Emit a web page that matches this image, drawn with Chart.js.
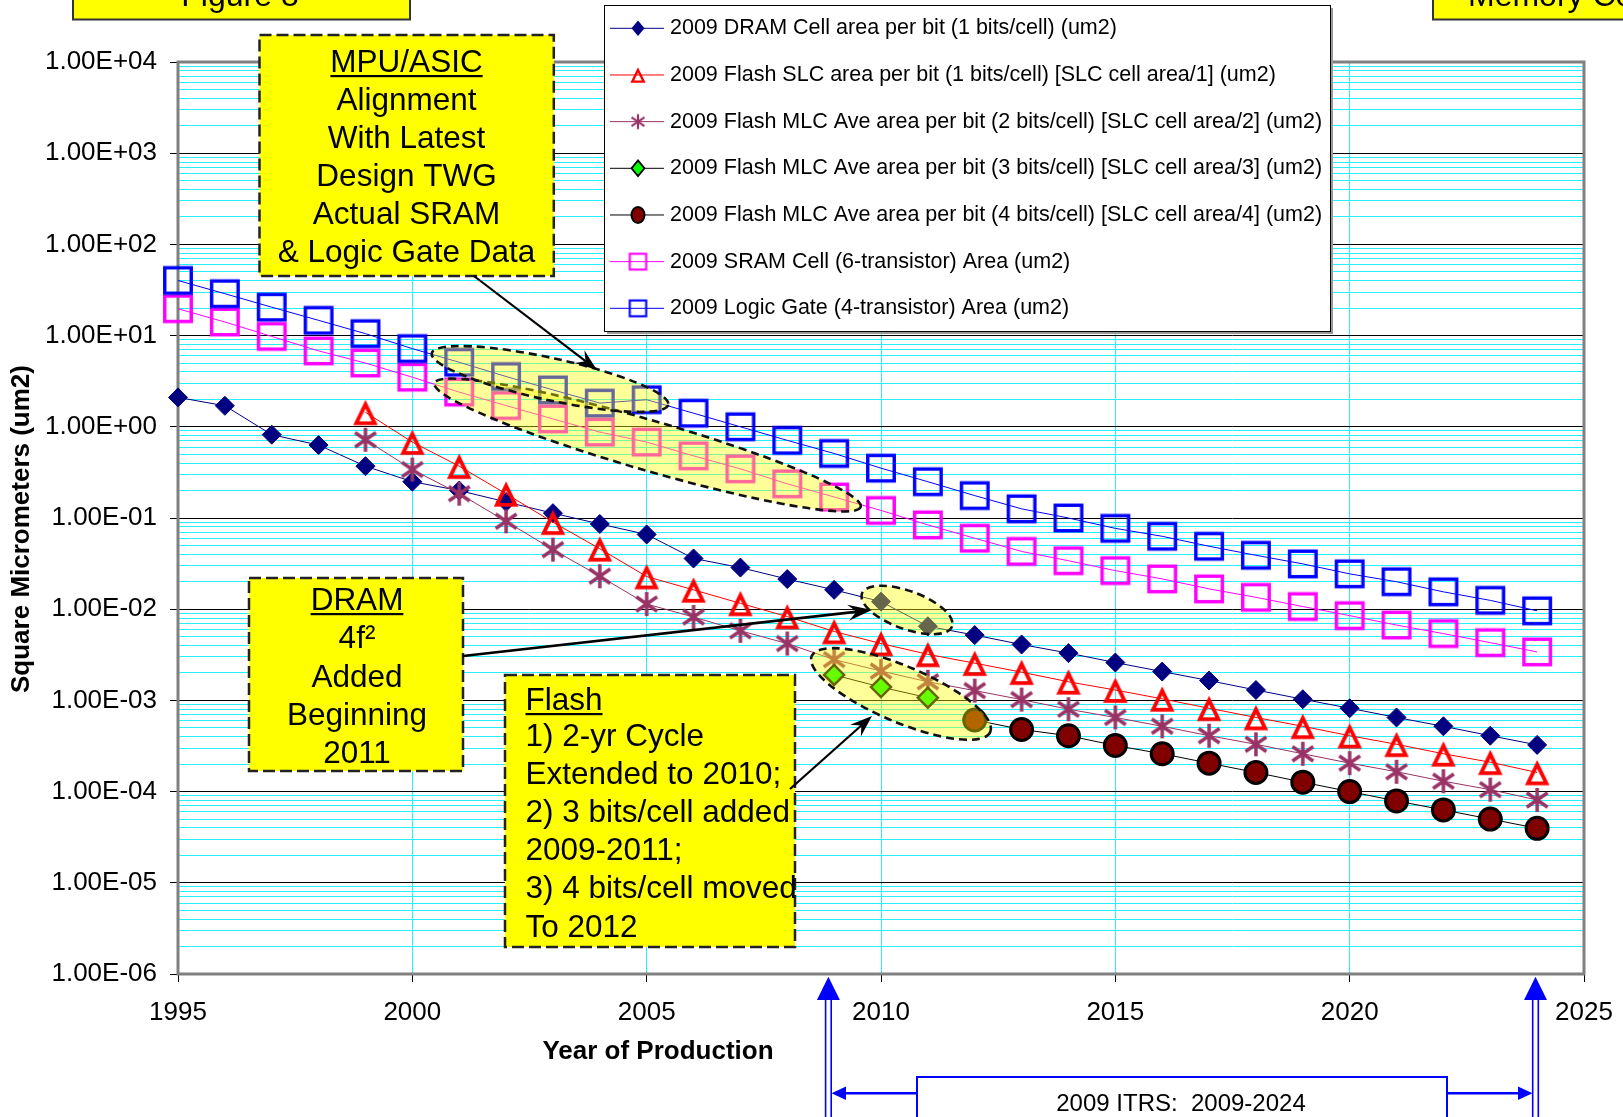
<!DOCTYPE html>
<html><head><meta charset="utf-8">
<script src="https://cdn.jsdelivr.net/npm/chart.js@4/dist/chart.umd.min.js"></script>
<style>html,body{margin:0;padding:0;background:#fff;overflow:hidden}canvas{display:block}</style>
</head><body>
<canvas id="c" width="1623" height="1117" style="width:1623px;height:1117px"></canvas>
<script>
const years = [1995,1996,1997,1998,1999,2000,2001,2002,2003,2004,2005,2006,2007,2008,2009,2010,2011,2012,2013,2014,2015,2016,2017,2018,2019,2020,2021,2022,2023,2024];
const dramArea = [2.1,1.7,0.82,0.63,0.37,0.25,0.20,0.15,0.113,0.086,0.066,0.036,0.0286,0.0214,0.0163,0.0121,0.0065,0.0052,0.0041,0.0033,0.0026,0.00207,0.00165,0.0013,0.00103,0.00082,0.00065,0.00052,0.00041,0.000325];
const flashSLC = [null,null,null,null,1.44,0.68,0.37,0.184,0.090,0.046,0.0228,0.0163,0.0116,0.0083,0.0057,0.0042,0.0032,0.00256,0.00204,0.0016,0.0013,0.00104,0.00082,0.00065,0.00052,0.00041,0.00033,0.00026,0.00021,0.000162];
const flashMLC2 = [null,null,null,null,0.72,0.34,0.185,0.092,0.045,0.023,0.0114,0.0082,0.0058,0.0042,0.0028,0.0021,0.0016,0.00128,0.00102,0.0008,0.00065,0.00052,0.00041,0.00033,0.00026,0.000205,0.000165,0.00013,0.000105,0.000081];
const flashMLC3 = [null,null,null,null,null,null,null,null,null,null,null,null,null,null,0.0019,0.0014,0.00107,null,null,null,null,null,null,null,null,null,null,null,null,null];
const flashMLC4 = [null,null,null,null,null,null,null,null,null,null,null,null,null,null,null,null,null,0.00061,0.00048,0.00041,0.00032,0.00026,0.000205,0.000162,0.000127,0.0001,0.000079,0.000063,0.00005,0.0000396];
const sramArea = [19.7,14.1,9.8,6.8,5.0,3.5,2.4,1.71,1.22,0.875,0.68,0.48,0.346,0.237,0.17,0.121,0.084,0.060,0.043,0.034,0.0265,0.0215,0.0167,0.0135,0.0107,0.0085,0.0067,0.0054,0.0043,0.0034];
const logicArea = [40.2,28.8,20.5,14.7,10.5,7.2,5.1,3.56,2.54,1.82,1.98,1.41,1.0,0.71,0.51,0.352,0.25,0.176,0.126,0.1,0.077,0.063,0.049,0.039,0.0314,0.0244,0.02,0.0155,0.0125,0.0096];
const seriesNames = [
  '2009 DRAM Cell area per bit (1 bits/cell) (um2)',
  '2009 Flash SLC area per bit (1 bits/cell) [SLC cell area/1] (um2)',
  '2009 Flash MLC Ave area per bit (2 bits/cell) [SLC cell area/2] (um2)',
  '2009 Flash MLC Ave area per bit (3 bits/cell) [SLC cell area/3] (um2)',
  '2009 Flash MLC Ave area per bit (4 bits/cell) [SLC cell area/4] (um2)',
  '2009 SRAM Cell (6-transistor) Area (um2)',
  '2009 Logic Gate (4-transistor) Area (um2)'
];
const xTickValues = [1995,2000,2005,2010,2015,2020,2025];
const xTickLabels = ['1995','2000','2005','2010','2015','2020','2025'];
const yDecades = [-6,-5,-4,-3,-2,-1,0,1,2,3,4];
const yTickLabels = ['1.00E-06','1.00E-05','1.00E-04','1.00E-03','1.00E-02','1.00E-01','1.00E+00','1.00E+01','1.00E+02','1.00E+03','1.00E+04'];
const xTitle = 'Year of Production';
const yTitle = 'Square Micrometers (um2)';

const FONT = '"Liberation Sans", Arial, sans-serif';
const CYAN = 'rgb(40,240,250)';

function pts(vals){ const out=[]; vals.forEach((v,i)=>{ if(v!==null) out.push({x:years[i], y:v}); }); return out; }

function mkCanvas(s){ const c=document.createElement('canvas'); c.width=s; c.height=s; return c; }
function squareMarker(color, k){ k=k||1; const s=Math.ceil(36*k); const c=mkCanvas(s); const g=c.getContext('2d');
  g.strokeStyle=color; g.lineWidth=3.4*k; const w=26.5*k, h=25.5*k; g.strokeRect(s/2-w/2, s/2-h/2, w, h); return c; }
function triMarker(color, k){ k=k||1; const s=Math.ceil(34*k); const c=mkCanvas(s); const g=c.getContext('2d');
  const w=18.5*k, h=19*k, cy=s/2+1.3*k; g.strokeStyle=color; g.lineWidth=3.8*k; g.lineJoin='miter';
  g.beginPath(); g.moveTo(s/2, cy-h/2); g.lineTo(s/2+w/2, cy+h/2); g.lineTo(s/2-w/2, cy+h/2); g.closePath(); g.stroke(); return c; }
function starMarker(color, k){ k=k||1; const s=Math.ceil(32*k); const c=mkCanvas(s); const g=c.getContext('2d');
  const r=12*k, m=s/2; g.strokeStyle=color; g.lineWidth=3.5*k; g.beginPath();
  g.moveTo(m, m-r); g.lineTo(m, m+r);
  g.moveTo(m-0.87*r, m-0.6*r); g.lineTo(m+0.87*r, m+0.6*r);
  g.moveTo(m-0.87*r, m+0.6*r); g.lineTo(m+0.87*r, m-0.6*r);
  g.stroke(); return c; }

const mSLC = triMarker('#FF0000'), mMLC2 = starMarker('#993366'), mSRAM = squareMarker('#FF00FF'), mLogic = squareMarker('#0000FF');

const datasets = [
  {label:seriesNames[0], data:pts(dramArea), borderColor:'#000080', backgroundColor:'#000080', borderWidth:1, pointStyle:'rectRot', pointRadius:9.5, pointBorderWidth:1, pointBorderColor:'#000080', pointBackgroundColor:'#000080', order:7},
  {label:seriesNames[1], data:pts(flashSLC), borderColor:'#FF0000', borderWidth:1, pointStyle:mSLC, order:6},
  {label:seriesNames[2], data:pts(flashMLC2), borderColor:'#993366', borderWidth:1, pointStyle:mMLC2, order:5},
  {label:seriesNames[3], data:pts(flashMLC3), borderColor:'#000000', borderWidth:1, pointStyle:'rectRot', pointRadius:10, pointBorderWidth:2.5, pointBorderColor:'#000000', pointBackgroundColor:'#00FF00', order:4},
  {label:seriesNames[4], data:pts(flashMLC4), borderColor:'#000000', borderWidth:1, pointStyle:'circle', pointRadius:11, pointBorderWidth:3, pointBorderColor:'#000000', pointBackgroundColor:'#800000', order:3},
  {label:seriesNames[5], data:pts(sramArea), borderColor:'#FF00FF', borderWidth:1, pointStyle:mSRAM, order:2},
  {label:seriesNames[6], data:pts(logicArea), borderColor:'#0000FF', borderWidth:1, pointStyle:mLogic, order:1}
];
datasets.forEach(d=>{ d.clip=false; d.tension=0; d.fill=false; if(!d.pointRadius) d.pointRadius=10; d.pointHoverRadius=d.pointRadius; });

function isDecade(v){ const l=Math.log10(v); return Math.abs(l-Math.round(l))<1e-9; }

function dashedBox(g,x1,y1,x2,y2,fill){ g.save(); g.fillStyle=fill; g.fillRect(x1,y1,x2-x1,y2-y1); g.setLineDash([12,5]); g.lineWidth=2.5; g.strokeStyle='#222'; g.strokeRect(x1,y1,x2-x1,y2-y1); g.restore(); }
function ellipse(g,cx,cy,a,b,deg){ g.save(); g.beginPath(); g.ellipse(cx,cy,a,b,deg*Math.PI/180,0,Math.PI*2); g.fillStyle='rgba(255,255,0,0.4)'; g.fill(); g.setLineDash([8,5]); g.lineWidth=2.6; g.strokeStyle='#111'; g.stroke(); g.restore(); }
function arrow(g,x1,y1,x2,y2,color,lw,hl,hw){ g.save(); const ang=Math.atan2(y2-y1,x2-x1); g.strokeStyle=color; g.fillStyle=color; g.lineWidth=lw;
  g.beginPath(); g.moveTo(x1,y1); g.lineTo(x2-Math.cos(ang)*hl*0.6, y2-Math.sin(ang)*hl*0.6); g.stroke();
  g.translate(x2,y2); g.rotate(ang); g.beginPath(); g.moveTo(0,0); g.lineTo(-hl,-hw); g.lineTo(-hl*0.65,0); g.lineTo(-hl,hw); g.closePath(); g.fill(); g.restore(); }
function textLines(g, lines, x, align, font){ g.save(); g.font=font; g.fillStyle='#000'; g.textAlign=align; g.textBaseline='alphabetic';
  lines.forEach(L=>{ g.fillText(L.t, x, L.y); if(L.u){ const w=g.measureText(L.t).width; const xs = align==='center'? x-w/2 : x; g.fillRect(xs, L.y+3, w, 2.2); } }); g.restore(); }

function legendMarker(g, i, x, y){
  g.save();
  if(i===0 || i===3){ const r = 6.5; g.beginPath(); g.moveTo(x-r,y); g.lineTo(x,y-r*1.2); g.lineTo(x+r,y); g.lineTo(x,y+r*1.2); g.closePath(); g.fillStyle= i===0?'#000080':'#00FF00'; g.fill(); if(i===3){ g.lineWidth=1.8; g.strokeStyle='#000'; g.stroke(); } }
  else if(i===4){ g.beginPath(); g.ellipse(x,y,6.5,8,0,0,Math.PI*2); g.fillStyle='#800000'; g.fill(); g.lineWidth=2; g.strokeStyle='#000'; g.stroke(); }
  else { const img = i===1?triMarker('#FF0000',0.62): i===2?starMarker('#993366',0.62): i===5?squareMarker('#FF00FF',0.62): squareMarker('#0000FF',0.62); g.drawImage(img, x-img.width/2, y-img.height/2); }
  g.restore();
}
const legendColors = ['#000080','#FF0000','#993366','#000000','#000000','#FF00FF','#0000FF'];

const overlay = {
  id:'overlay',
  beforeDatasetsDraw(chart){
    const g=chart.ctx, a=chart.chartArea; g.save(); g.strokeStyle='#808080'; g.lineWidth=3;
    g.strokeRect(a.left, a.top, a.right-a.left, a.bottom-a.top); g.restore();
  },
  afterDatasetsDraw(chart){
    const g=chart.ctx;
    ellipse(g, 647.5, 445, 222, 25, 16.2);
    ellipse(g, 550, 379, 121, 21, 12.3);
    ellipse(g, 907, 610, 48, 19, 20);
    ellipse(g, 901, 694, 97, 28, 23);
    dashedBox(g, 259.5, 35, 553.8, 276, '#FFFF00');
    textLines(g, [{t:'MPU/ASIC',y:72,u:true},{t:'Alignment',y:110},{t:'With Latest',y:148},{t:'Design TWG',y:186},{t:'Actual SRAM',y:224},{t:'& Logic Gate Data',y:262}], 406.5, 'center', '31.5px '+FONT);
    dashedBox(g, 249, 578, 463, 771, '#FFFF00');
    textLines(g, [{t:'DRAM',y:610,u:true},{t:'4f\u00B2',y:648},{t:'Added',y:687},{t:'Beginning',y:725},{t:'2011',y:763}], 357, 'center', '31.5px '+FONT);
    dashedBox(g, 505, 675, 795, 947, '#FFFF00');
    textLines(g, [{t:'Flash',y:710,u:true},{t:'1) 2-yr Cycle',y:746},{t:'Extended to 2010;',y:784},{t:'2) 3 bits/cell added',y:822},{t:'2009-2011;',y:860},{t:'3) 4 bits/cell moved',y:898},{t:'To 2012',y:937}], 525.5, 'left', '31.5px '+FONT);
    arrow(g, 474, 276, 597, 370, '#000', 2.2, 22, 8);
    arrow(g, 463, 656, 872, 610, '#000', 2.6, 24, 8);
    arrow(g, 790, 789, 872, 716, '#000', 2.2, 22, 8);
    g.save();
    g.fillStyle='#999'; g.fillRect(607,8,726,326);
    g.fillStyle='#fff'; g.fillRect(604.5,5.5,726,326); g.lineWidth=1; g.strokeStyle='#000'; g.strokeRect(604.5,5.5,726,326);
    g.font='21.5px '+FONT; g.textBaseline='middle'; g.textAlign='left';
    seriesNames.forEach((n,i)=>{ const y=28.3+i*46.67; g.strokeStyle=legendColors[i]; g.lineWidth=1; g.beginPath(); g.moveTo(610,y); g.lineTo(664,y); g.stroke(); legendMarker(g,i,638,y); g.fillStyle='#000'; g.fillText(n, 670, y); });
    g.restore();
    g.save(); g.fillStyle='#FFFF00'; g.fillRect(73,-10,337,29.5); g.lineWidth=2; g.strokeStyle='#333'; g.strokeRect(73,-10,337,29.5);
    g.fillRect(1433,-10,220,29.5); g.strokeRect(1433,-10,220,29.5);
    g.fillStyle='#000'; g.font='32px '+FONT; g.textAlign='center'; g.textBaseline='alphabetic'; g.fillText('Figure 8', 240, 6);
    g.textAlign='left'; g.fillText('Memory Cell Area', 1468, 6); g.restore();
    g.save(); g.fillStyle='#000'; g.font='bold 26px '+FONT; g.textAlign='center'; g.textBaseline='alphabetic';
    g.fillText(xTitle, 658, 1059);
    g.translate(22,529); g.rotate(-Math.PI/2); g.textBaseline='middle'; g.fillText(yTitle,0,0); g.restore();
    g.save(); g.strokeStyle='#0000FF'; g.fillStyle='#0000FF'; g.lineWidth=1.6;
    [828.4, 1535.5].forEach(x=>{ g.beginPath(); g.moveTo(x-2.8,995); g.lineTo(x-2.8,1120); g.moveTo(x+2.8,995); g.lineTo(x+2.8,1120); g.stroke();
      g.beginPath(); g.moveTo(x,976.7); g.lineTo(x+11.5,1000); g.lineTo(x-11.5,1000); g.closePath(); g.fill(); });
    g.lineWidth=2.6; g.beginPath(); g.moveTo(845,1093.3); g.lineTo(1519,1093.3); g.stroke();
    g.beginPath(); g.moveTo(831.5,1093.3); g.lineTo(846,1086.5); g.lineTo(846,1100); g.closePath(); g.fill();
    g.beginPath(); g.moveTo(1532.5,1093.3); g.lineTo(1518,1086.5); g.lineTo(1518,1100); g.closePath(); g.fill();
    g.fillStyle='#fff'; g.fillRect(917,1077,530,50); g.lineWidth=2; g.strokeRect(917,1077,530,50);
    g.fillStyle='#000'; g.font='24px '+FONT; g.textAlign='center'; g.textBaseline='alphabetic'; g.fillText('2009 ITRS:  2009-2024', 1181, 1111);
    g.restore();
  }
};

new Chart(document.getElementById('c'), {
  type:'line',
  data:{ datasets },
  options:{
    responsive:false, animation:false, events:[],
    layout:{ padding:{ top:62, right:39, left:0, bottom:0 } },
    plugins:{ legend:{display:false}, tooltip:{enabled:false} },
    scales:{
      x:{ type:'linear', min:1995, max:2025,
        afterBuildTicks(s){ s.ticks = xTickValues.map(v=>({value:v})); },
        afterFit(s){ s.height = 143; s.paddingLeft = 0; s.paddingRight = 0; },
        border:{display:false},
        grid:{ color:(c)=> (c.tick && (c.tick.value===1995||c.tick.value===2025)) ? 'rgba(0,0,0,0)' : CYAN, lineWidth:1, tickColor:'#000', tickLength:8, drawTicks:true },
        ticks:{ autoSkip:false, maxRotation:0, padding:15, color:'#000', font:{family:FONT, size:26},
          callback:(v)=>{ const i=xTickValues.indexOf(v); return i>=0?xTickLabels[i]:''; } }
      },
      y:{ type:'logarithmic', min:1e-6, max:1e4,
        afterBuildTicks(s){ const t=[]; yDecades.forEach(n=>{ for(let m=1;m<=9;m++){ if(n===4 && m>1) break; t.push({value:Number(m+'e'+n)}); } }); s.ticks=t; },
        afterFit(s){ s.width = 178; s.paddingTop = 0; s.paddingBottom = 0; },
        border:{display:false},
        grid:{ color:(c)=> (c.tick && isDecade(c.tick.value)) ? '#000' : CYAN, lineWidth:1,
          tickColor:(c)=> (c.tick && isDecade(c.tick.value)) ? '#000' : 'rgba(0,0,0,0)', tickLength:8, drawTicks:true },
        ticks:{ autoSkip:false, padding:13, color:'#000', font:{family:FONT, size:26},
          callback:(v)=>{ if(!isDecade(v)) return ''; const i=yDecades.indexOf(Math.round(Math.log10(v))); return yTickLabels[i]; } }
      }
    }
  },
  plugins:[overlay]
});
</script>
</body></html>
